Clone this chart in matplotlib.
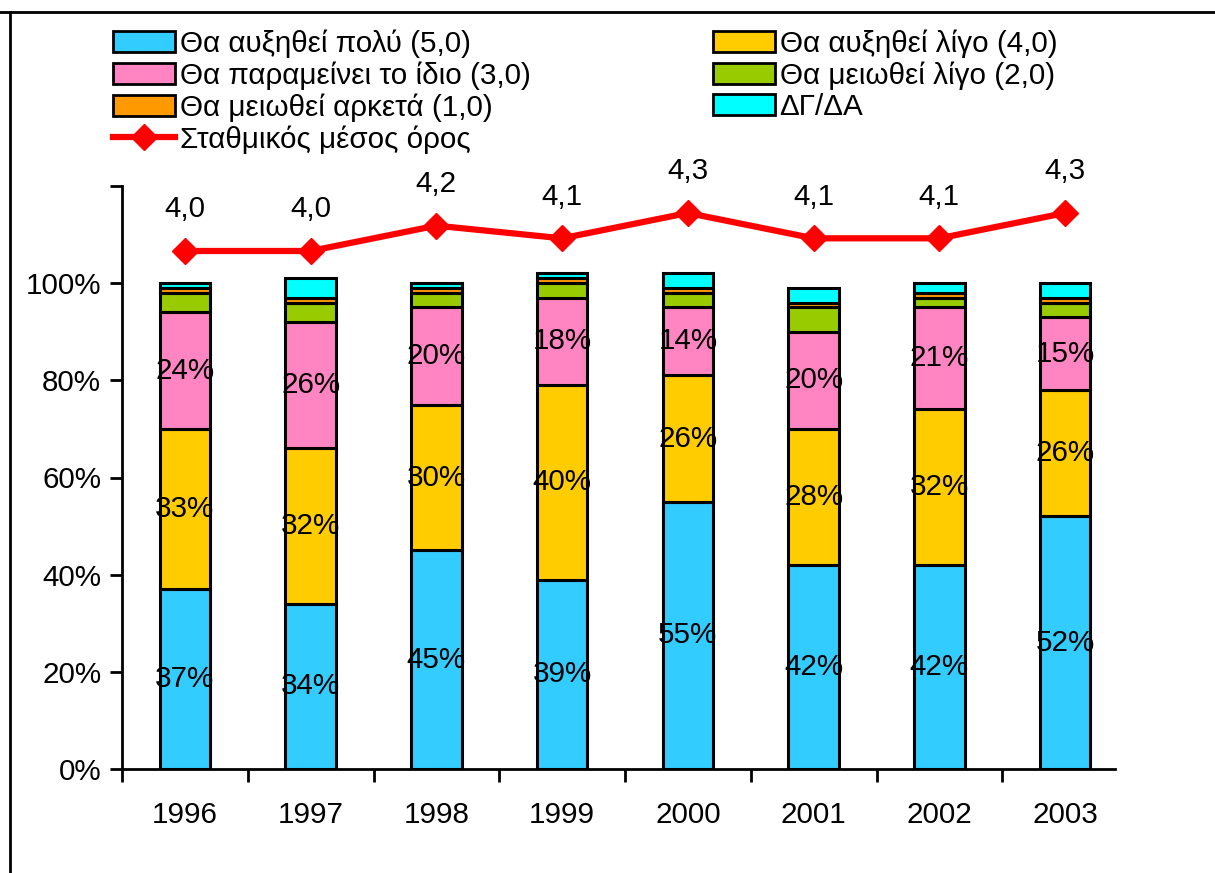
import numpy as np
import matplotlib
matplotlib.use('Agg')
from matplotlib import pyplot as plt
from matplotlib.patches import Patch
from matplotlib.lines import Line2D

plt.rcParams['font.family'] = ['Liberation Sans', 'DejaVu Sans']
plt.rcParams['font.size'] = 21.3

years = ['1996', '1997', '1998', '1999', '2000', '2001', '2002', '2003']

# answer shares per year (%)
poly_up = [37, 34, 45, 39, 55, 42, 42, 52]      # 5,0
ligo_up = [33, 32, 30, 40, 26, 28, 32, 26]      # 4,0
idio = [24, 26, 20, 18, 14, 20, 21, 15]         # 3,0
ligo_down = [4, 4, 3, 3, 3, 5, 2, 3]            # 2,0
arketa_down = [1, 1, 1, 1, 1, 1, 1, 1]          # 1,0
dg_da = [1, 4, 1, 1, 3, 3, 2, 3]

# weighted mean
mesos = [4.0, 4.0, 4.2, 4.1, 4.3, 4.1, 4.1, 4.3]

names = ['Θα αυξηθεί πολύ (5,0)', 'Θα αυξηθεί λίγο (4,0)',
         'Θα παραμείνει το ίδιο (3,0)', 'Θα μειωθεί λίγο (2,0)',
         'Θα μειωθεί αρκετά (1,0)', 'ΔΓ/ΔΑ']
line_name = 'Σταθμικός μέσος όρος'
colors = ['#33ccff', '#ffcc00', '#ff85c2', '#99cc00', '#ff9900', '#00ffff']

series = [poly_up, ligo_up, idio, ligo_down, arketa_down, dg_da]

fig = plt.figure(figsize=(12.15, 8.73), dpi=100)
ax = fig.add_axes([122/1215, 1 - 769/873, (1128-122)/1215, (769-186)/873])

x = np.arange(len(years))
bottom = np.zeros(len(years))
for i, vals in enumerate(series):
    vals = np.array(vals, dtype=float)
    ax.bar(x, vals, 0.4, bottom=bottom, color=colors[i],
           edgecolor='black', linewidth=2.2, zorder=2)
    if i < 3:
        for xi, b, v in zip(x, bottom, vals):
            ax.text(xi, b + v/2, '%d%%' % v, ha='center', va='center',
                    fontsize=21.3, zorder=3)
    bottom += vals

ax.set_xlim(-0.5, len(years) - 0.5)
ax.set_ylim(0, 120)
ax.set_yticks(np.arange(0, 121, 20))
ax.set_yticklabels(['%d%%' % v for v in range(0, 101, 20)] + [''])
ax.set_xticks(x)
ax.set_xticklabels(years)
ax.set_xticks(np.arange(-0.5, len(years) - 1, 1.0), minor=True)
ax.tick_params(axis='x', which='major', length=0, pad=23)
ax.tick_params(axis='x', which='minor', length=9, width=2, direction='out')
ax.tick_params(axis='y', length=9, width=2, direction='out', pad=6)
for s in ['top', 'right']:
    ax.spines[s].set_visible(False)
for s in ['left', 'bottom']:
    ax.spines[s].set_linewidth(2)
ax.spines['bottom'].set_bounds(-0.5, len(years) - 0.6)

# mean line on its own hidden scale
ax2 = ax.twinx()
ax2.plot(x, mesos, color='#ff0000', lw=4.5, marker='D', markersize=13,
         zorder=4)
for xi, m in zip(x, mesos):
    ax2.annotate(('%.1f' % m).replace('.', ','), (xi, m), xytext=(0, 30),
                 textcoords='offset points', ha='center', va='center',
                 fontsize=21.3)
ax2.set_ylim(-0.089, 4.513)
ax2.set_axis_off()

handles = [Patch(facecolor=c, edgecolor='black', linewidth=2) for c in colors]
line_h = Line2D([], [], color='#ff0000', lw=4.5, marker='D', markersize=13)

leg_kw = dict(frameon=False, fontsize=21.3, handlelength=2.1,
              handleheight=0.7, handletextpad=0.15, labelspacing=0.12,
              borderpad=0, borderaxespad=0)
fig.legend([handles[0], handles[2], handles[4], line_h],
           [names[0], names[2], names[4], line_name],
           loc='upper left', bbox_to_anchor=(113/1215, 1 - 29/873), **leg_kw)
fig.legend([handles[1], handles[3], handles[5]],
           [names[1], names[3], names[5]],
           loc='upper left', bbox_to_anchor=(713/1215, 1 - 29/873), **leg_kw)

# outer frame
fig.add_artist(Line2D([0, 1], [1 - 12/873, 1 - 12/873], color='black', lw=2,
                      transform=fig.transFigure))
fig.add_artist(Line2D([10/1215, 10/1215], [0, 1 - 12/873], color='black', lw=2,
                      transform=fig.transFigure))

fig.savefig('out.png', dpi=100)
